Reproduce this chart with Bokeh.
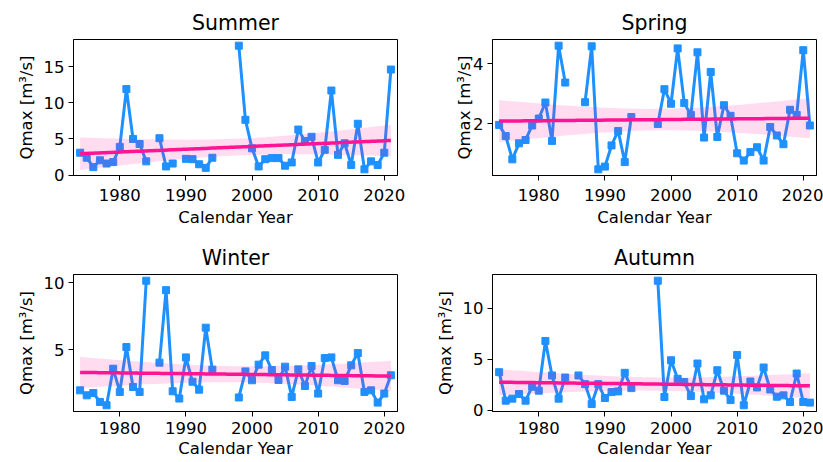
import numpy as np
from bokeh.plotting import figure
from bokeh.layouts import column, row
from bokeh.models import FixedTicker, Range1d
from bokeh.embed import file_html
from bokeh.resources import INLINE

nan = float("nan")

# Calendar years of the record
years = list(range(1974, 2022))

# Seasonal maximum discharge Qmax [m3/s] (nan = no data)
summer = [3.1, 2.4, 1.1, 2.05, 1.6, 1.8, 3.9, 11.9, 5.0, 4.3, 1.9,
          nan,
          5.1, 1.2, 1.6,
          nan,
          2.25, 2.2, 1.5, 1.0, 2.4,
          nan, nan, nan,
          17.9, 7.65, 3.7, 1.2, 2.2, 2.35, 2.35, 1.3, 1.75, 6.3, 4.7, 5.3,
          1.75, 3.5, 11.7, 2.8, 4.4, 1.4, 7.1, 0.8, 1.9, 1.4, 3.1, 14.6]

spring = [1.97, 1.6, 0.83, 1.36, 1.47, 1.95, 2.18, 2.71, 1.44, 4.59, 3.37,
          nan, nan,
          2.72, 4.57, 0.5, 0.59, 1.29, 1.77, 0.74, 2.23,
          nan, nan, nan,
          2.0, 3.15, 2.67, 4.5, 2.69, 2.3, 4.37, 1.55, 3.72, 1.57, 2.62, 2.27,
          1.03, 0.79, 1.07, 1.23, 0.79, 1.9, 1.62, 1.33, 2.47, 2.3, 4.44, 1.95]

winter = [2.0, 1.63, 1.8, 1.14, 0.89, 3.61, 1.88, 5.22, 2.25, 1.88, 10.15,
          nan,
          4.06, 9.45, 1.93, 1.39, 4.45, 2.64, 2.05, 6.66, 3.54,
          nan, nan, nan,
          1.47, 3.41, 2.75, 3.91, 4.6, 3.51, 2.77, 3.76, 1.51, 3.56, 2.32, 3.81,
          1.76, 4.4, 4.45, 2.75, 2.7, 3.86, 4.77, 1.88, 2.0, 1.09, 1.76, 3.12]

autumn = [3.73, 0.94, 1.14, 1.59, 0.94, 2.31, 1.92, 6.79, 3.41, 1.14, 3.21,
          nan,
          3.41, 2.56, 0.61, 2.56, 1.2, 1.78, 1.85, 3.67, 2.17,
          nan, nan, nan,
          12.69, 1.3, 4.9, 3.08, 2.76, 1.39, 4.58, 1.07, 1.46, 3.92, 1.92, 1.0,
          5.42, 0.49, 2.82, 2.24, 4.19, 2.04, 1.33, 1.46, 0.81, 3.6, 0.81, 0.75]

x_ticks = [1980, 1990, 2000, 2010, 2020]
summer_ticks = [0, 5, 10, 15]
spring_ticks = [2, 4]
winter_ticks = [5, 10]
autumn_ticks = [0, 5, 10]

FONT = "DejaVu Sans"
SERIES = "#1E90FF"
TREND = "#FF1493"
T95 = 2.02  # two-sided 95% t quantile, ~41 degrees of freedom


def trend_with_ci(x, y, n=100):
    """Least-squares trend line with a 95% confidence band for the mean."""
    x = np.asarray(x, float)
    y = np.asarray(y, float)
    ok = ~np.isnan(y)
    x, y = x[ok], y[ok]
    slope, icept = np.polyfit(x, y, 1)
    grid = np.linspace(x.min(), x.max(), n)
    fit = icept + slope * grid
    resid = y - (icept + slope * x)
    s = np.sqrt(np.sum(resid ** 2) / (len(x) - 2))
    sxx = np.sum((x - x.mean()) ** 2)
    se = s * np.sqrt(1.0 / len(x) + (grid - x.mean()) ** 2 / sxx)
    return grid, fit, fit - T95 * se, fit + T95 * se


def panel(title, values, yticks, width, height, left, right, top, bottom,
          ylabel_standoff, xtick_standoff, xlabel_standoff):
    vals = np.asarray(values, float)
    lo, hi = np.nanmin(vals), np.nanmax(vals)
    pad = 0.05 * (hi - lo)
    p = figure(width=width, height=height, title=title,
               output_backend="svg", toolbar_location=None,
               x_range=Range1d(1973, 2022),
               y_range=Range1d(lo - pad, hi + pad),
               min_border_left=left, min_border_right=right,
               min_border_top=top, min_border_bottom=bottom)
    p.background_fill_color = "white"
    p.border_fill_color = "white"
    p.outline_line_color = "black"
    p.outline_line_width = 1
    p.xgrid.visible = False
    p.ygrid.visible = False

    p.title.text_font = FONT
    p.title.text_font_size = "20.5px"
    p.title.text_font_style = "normal"
    p.title.align = "center"
    p.title.text_color = "black"

    for ax in (p.xaxis[0], p.yaxis[0]):
        ax.axis_line_color = "black"
        ax.major_tick_line_color = "black"
        ax.major_tick_out = 5
        ax.major_tick_in = 0
        ax.minor_tick_line_color = None
        ax.major_label_text_font = FONT
        ax.major_label_text_font_size = "16.5px"
        ax.major_label_text_color = "black"
        ax.axis_label_text_font = FONT
        ax.axis_label_text_font_size = "16.5px"
        ax.axis_label_text_font_style = "normal"
        ax.axis_label_text_color = "black"

    p.xaxis.ticker = FixedTicker(ticks=x_ticks)
    p.yaxis.ticker = FixedTicker(ticks=yticks)
    p.xaxis.axis_label = "Calendar Year"
    p.yaxis.axis_label = "Qmax [m³/s]"
    p.xaxis.major_label_standoff = xtick_standoff
    p.yaxis.major_label_standoff = 4
    p.xaxis.axis_label_standoff = xlabel_standoff
    p.yaxis.axis_label_standoff = ylabel_standoff

    # observed seasonal maxima
    p.line(years, vals, line_color=SERIES, line_width=3)
    p.scatter(years, vals, marker="square", size=7,
              fill_color=SERIES, line_color=SERIES)

    # linear trend and its confidence band
    gx, fit, lower, upper = trend_with_ci(years, vals)
    p.varea(x=gx, y1=lower, y2=upper, fill_color=TREND, fill_alpha=0.15)
    p.line(gx, fit, line_color=TREND, line_width=3.5)
    return p


p_summer = panel("Summer", summer, summer_ticks, 411, 231, 73, 14, 39, 56, 5, 8, 4)
p_spring = panel("Spring", spring, spring_ticks, 412, 231, 81, 7, 39, 56, -4, 8, 4)
p_winter = panel("Winter", winter, winter_ticks, 411, 231, 73, 14, 43, 51, 5, 5, 2)
p_autumn = panel("Autumn", autumn, autumn_ticks, 412, 231, 81, 7, 43, 51, 5, 5, 2)

layout = column(row(p_summer, p_spring), row(p_winter, p_autumn))

with open("out.html", "w") as f:
    f.write(file_html(layout, INLINE, "Seasonal Qmax"))
